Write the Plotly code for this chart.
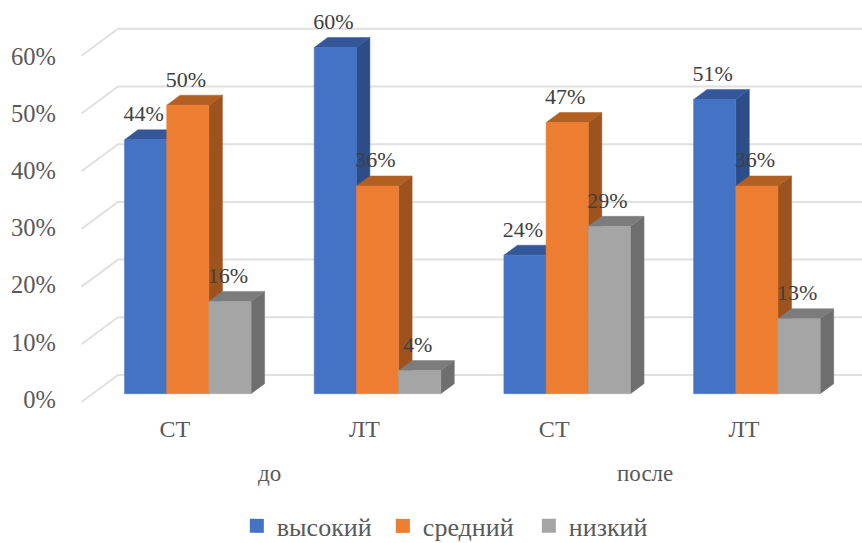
import plotly.graph_objects as go

# Survey results: share of respondents per level, before and after
group_labels = ["СТ", "ЛТ", "СТ", "ЛТ"]
period_labels = ["до", "после"]
period_positions = [0.43, 2.41]
series_names = ["высокий", "средний", "низкий"]
high_values = [44, 60, 24, 51]
mid_values = [50, 36, 47, 36]
low_values = [16, 4, 29, 13]
series_values = [high_values, mid_values, low_values]
y_ticks = [0, 10, 20, 30, 40, 50, 60]

# Face colours of each extruded column: front, top, side
front_colors = ["#4472C4", "#ED7D31", "#A5A5A5"]
top_colors = ["#34579A", "#B25F22", "#7C7C7C"]
side_colors = ["#2C4D88", "#9C531E", "#6E6E6E"]
GRID = "#E0E0E0"
SERIF = "Liberation Serif"

W, H = 862, 543
LEFT, RIGHT, TOP, BOTTOM = 60, 0, 5, 131
PX_X = 189.7      # pixels per group
PX_Y = 5.77       # pixels per percent
BASE_PX = 393.7   # pixel row of the 0% column base
FIRST_PX = 187.8  # pixel column of the first group's centre

x0 = -(FIRST_PX - LEFT) / PX_X
x1 = x0 + (W - LEFT - RIGHT) / PX_X
y_top = (BASE_PX - TOP) / PX_Y
y_bot = (BASE_PX - (H - BOTTOM)) / PX_Y

BAR_W = 42.2 / PX_X
DEPTH_X = 13.5 / PX_X
DEPTH_Y = 10 / PX_Y
LABEL_LIFT = 24 / PX_Y
WALL_X = x0 + (118 - LEFT) / PX_X
FLOOR_X = x0 + (81.5 - LEFT) / PX_X
WALL_Y = 18.7 / PX_Y
FLOOR_Y = -8.3 / PX_Y

fig = go.Figure()

# Floor and wall gridlines
for t in y_ticks:
    fig.add_trace(go.Scatter(
        x=[FLOOR_X, WALL_X, x1], y=[t + FLOOR_Y, t + WALL_Y, t + WALL_Y],
        mode="lines", line=dict(color=GRID, width=2),
        showlegend=False, hoverinfo="skip"))


def face(xs, ys, color, name=None):
    fig.add_trace(go.Scatter(
        x=xs, y=ys, mode="lines", fill="toself", fillcolor=color,
        line=dict(color=color, width=0.5), name=name,
        showlegend=False, hoverinfo="skip" if name is None else "x+y"))


# Columns, drawn left to right so later ones hide earlier side faces
label_x, label_y, label_text = [], [], []
for g in range(len(group_labels)):
    for s, values in enumerate(series_values):
        v = values[g]
        a = g + (s - 1.5) * BAR_W
        b = a + BAR_W
        face([b, b + DEPTH_X, b + DEPTH_X, b, b],
             [0, DEPTH_Y, v + DEPTH_Y, v, 0], side_colors[s])
        face([a, a + DEPTH_X, b + DEPTH_X, b, a],
             [v, v + DEPTH_Y, v + DEPTH_Y, v, v], top_colors[s])
        face([a, b, b, a, a], [0, 0, v, v, 0], front_colors[s], series_names[s])
        label_x.append((a + b) / 2 - 2 / PX_X)
        label_y.append(v + LABEL_LIFT)
        label_text.append(f"{v}%")

fig.add_trace(go.Scatter(
    x=label_x, y=label_y, text=label_text, mode="text",
    textposition="middle center", cliponaxis=False,
    textfont=dict(family=SERIF, size=22, color="#404040"),
    showlegend=False, hoverinfo="skip"))

# Legend entries with square keys
for s, name in enumerate(series_names):
    fig.add_trace(go.Scatter(
        x=[None], y=[None], mode="markers", name=name,
        marker=dict(symbol="square", size=14, color=front_colors[s])))

# Carrier for the value axis, whose labels sit on the front edge of the floor
fig.add_trace(go.Scatter(x=[0], y=[0], yaxis="y2", mode="markers",
                         marker=dict(opacity=0), showlegend=False, hoverinfo="skip"))

# Period captions beneath each pair of groups
for pos, text in zip(period_positions, period_labels):
    fig.add_annotation(
        x=pos, xref="x",
        y=1 - (473 - TOP) / (H - TOP - BOTTOM), yref="paper",
        text=text, showarrow=False, xanchor="center", yanchor="middle",
        font=dict(family=SERIF, size=23, color="#595959"))

fig.update_layout(
    width=W, height=H, autosize=False,
    margin=dict(l=LEFT, r=RIGHT, t=TOP, b=BOTTOM, autoexpand=False),
    paper_bgcolor="white", plot_bgcolor="white",
    xaxis=dict(range=[x0, x1], showgrid=False, zeroline=False, showline=False,
               tickmode="array", tickvals=[g - 13 / PX_X for g in range(4)],
               ticktext=group_labels, ticks="", ticklen=0,
               tickfont=dict(family=SERIF, size=24, color="#595959")),
    yaxis=dict(range=[y_bot, y_top], showgrid=False, zeroline=False, showline=False,
               showticklabels=False, ticks=""),
    yaxis2=dict(overlaying="y", side="left",
                range=[(399.2 - (H - BOTTOM)) / 5.72, (399.2 - TOP) / 5.72],
                showgrid=False, zeroline=False, showline=False,
                tickmode="array", tickvals=y_ticks,
                ticktext=[f"{t}%" for t in y_ticks], ticks="",
                ticklabelstandoff=3,
                tickfont=dict(family=SERIF, size=24.5, color="#595959")),
    legend=dict(orientation="h", x=0.2205, xanchor="left", xref="paper",
                y=-0.28, yanchor="middle", traceorder="normal",
                entrywidth=101, entrywidthmode="pixels",
                font=dict(family=SERIF, size=26, color="#595959"),
                itemclick=False, itemdoubleclick=False),
)

fig.write_html("out.html")
